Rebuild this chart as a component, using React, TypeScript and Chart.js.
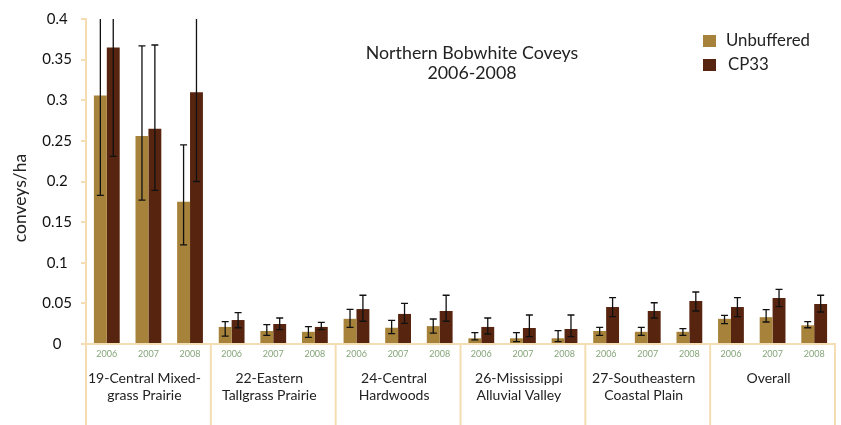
import React, { useEffect, useRef } from "react";
import { Chart, registerables } from "chart.js";

Chart.register(...registerables);

const years = ["2006", "2007", "2008"];
const regions: string[][] = [
  ["19-Central Mixed-", "grass Prairie"],
  ["22-Eastern", "Tallgrass Prairie"],
  ["24-Central", "Hardwoods"],
  ["26-Mississippi", "Alluvial Valley"],
  ["27-Southeastern", "Coastal Plain"],
  ["Overall"],
];
const categories: string[] = regions.flatMap(() => years);

const unbuffered = [0.306, 0.256, 0.175, 0.021, 0.016, 0.015, 0.031, 0.02, 0.022, 0.007, 0.007, 0.007, 0.016, 0.015, 0.015, 0.031, 0.033, 0.023];
const unbufferedLow = [0.183, 0.177, 0.122, 0.0098, 0.0107, 0.0082, 0.0205, 0.0127, 0.0135, 0.005, 0.003, 0.003, 0.0107, 0.0107, 0.0107, 0.025, 0.0271, 0.02];
const unbufferedHigh = [0.43, 0.367, 0.245, 0.0275, 0.0238, 0.0213, 0.0427, 0.029, 0.0308, 0.0139, 0.0139, 0.0164, 0.0205, 0.0205, 0.0189, 0.0353, 0.0422, 0.0275];
const cp33 = [0.365, 0.265, 0.31, 0.0295, 0.0246, 0.021, 0.043, 0.037, 0.0406, 0.021, 0.0197, 0.0185, 0.0455, 0.0406, 0.0529, 0.0455, 0.0566, 0.0492];
const cp33Low = [0.231, 0.189, 0.2, 0.02, 0.0176, 0.0176, 0.028, 0.0255, 0.028, 0.0123, 0.009, 0.009, 0.0336, 0.032, 0.0406, 0.0336, 0.046, 0.0394];
const cp33High = [0.5, 0.368, 0.42, 0.0385, 0.032, 0.0267, 0.06, 0.05, 0.06, 0.032, 0.0357, 0.0357, 0.057, 0.0508, 0.064, 0.057, 0.0673, 0.06];

const titleLines = ["Northern Bobwhite Coveys", "2006-2008"];
const yTitle = "conveys/ha";

const COL_UNBUF = "#a7823a";
const COL_CP33 = "#57240f";
const TAN = "#f4ddb2";
const FONT = "Lato, 'Open Sans', sans-serif";

export default function App() {
  const ref = useRef<HTMLCanvasElement>(null);

  useEffect(() => {
    document.body.style.margin = "0";
    const canvas = ref.current;
    if (!canvas) return;
    const lows = [unbufferedLow, cp33Low];
    const highs = [unbufferedHigh, cp33High];

    const customPlugin = {
      id: "custom",
      afterDatasetsDraw(chart: any) {
        const ctx = chart.ctx;
        const y = chart.scales.y;
        const area = chart.chartArea;
        ctx.save();
        ctx.beginPath();
        ctx.rect(area.left, area.top, area.right - area.left, area.bottom - area.top);
        ctx.clip();
        ctx.strokeStyle = "#111";
        ctx.lineWidth = 1.3;
        chart.data.datasets.forEach((_ds: any, di: number) => {
          const meta = chart.getDatasetMeta(di);
          meta.data.forEach((bar: any, i: number) => {
            const yt = y.getPixelForValue(highs[di][i]);
            const yb = y.getPixelForValue(lows[di][i]);
            const x = bar.x;
            ctx.beginPath();
            ctx.moveTo(x, yt);
            ctx.lineTo(x, yb);
            ctx.moveTo(x - 3.5, yt);
            ctx.lineTo(x + 3.5, yt);
            ctx.moveTo(x - 3.5, yb);
            ctx.lineTo(x + 3.5, yb);
            ctx.stroke();
          });
        });
        ctx.restore();
      },
      afterDraw(chart: any) {
        const ctx = chart.ctx;
        const x = chart.scales.x;
        const area = chart.chartArea;
        const h = chart.height;
        ctx.save();
        ctx.strokeStyle = TAN;
        ctx.lineWidth = 2;
        const n = categories.length;
        for (let g = 0; g <= regions.length; g++) {
          let px: number;
          const idx = g * 3;
          if (idx === 0) px = area.left;
          else if (idx >= n) px = area.right;
          else px = (x.getPixelForValue(idx - 1) + x.getPixelForValue(idx)) / 2;
          ctx.beginPath();
          ctx.moveTo(px, area.bottom);
          ctx.lineTo(px, h);
          ctx.stroke();
        }
        ctx.fillStyle = "#222";
        ctx.font = `14px ${FONT}`;
        ctx.textAlign = "center";
        ctx.textBaseline = "middle";
        regions.forEach((lines, g) => {
          const cx = x.getPixelForValue(g * 3 + 1) - 4;
          lines.forEach((l, li) => {
            ctx.fillText(l, cx, 378 + li * 17);
          });
        });
        ctx.fillStyle = "#222";
        ctx.font = `17.8px ${FONT}`;
        titleLines.forEach((t, i) => ctx.fillText(t, 472, 53 + i * 20));
        ctx.save();
        ctx.translate(20, 198);
        ctx.rotate(-Math.PI / 2);
        ctx.font = `17.5px ${FONT}`;
        ctx.fillText(yTitle, 0, 0);
        ctx.restore();
        ctx.textAlign = "left";
        ctx.font = `16.8px ${FONT}`;
        chart.data.datasets.forEach((ds: any, i: number) => {
          const yy = 41 + i * 24;
          ctx.fillStyle = ds.backgroundColor;
          ctx.fillRect(703, yy - 6, 13, 12);
          ctx.fillStyle = "#222";
          ctx.fillText(ds.label, i === 0 ? 726 : 728, yy);
        });
        ctx.restore();
      },
    };

    const chart = new Chart(canvas, {
      type: "bar",
      data: {
        labels: categories,
        datasets: [
          { label: "Unbuffered", data: unbuffered, backgroundColor: COL_UNBUF, categoryPercentage: 0.62, barPercentage: 1.0 },
          { label: "CP33", data: cp33, backgroundColor: COL_CP33, categoryPercentage: 0.62, barPercentage: 1.0 },
        ],
      },
      options: {
        responsive: false,
        animation: false,
        layout: { padding: { top: 19, right: 6, left: 0, bottom: 0 } },
        plugins: { legend: { display: false }, tooltip: { enabled: false }, title: { display: false } },
        scales: {
          x: {
            grid: { display: false, drawTicks: false },
            border: { display: true, color: TAN, width: 2 },
            ticks: { color: "#86a57a", font: { size: 9, family: FONT }, padding: 5, maxRotation: 0, autoSkip: false },
            afterFit: (s: any) => { s.height = 81; },
          },
          y: {
            min: 0,
            max: 0.4,
            ticks: {
              stepSize: 0.05,
              color: "#111",
              font: { size: 15, family: FONT },
              padding: 9,
              crossAlign: "center",
              callback: (v: any) => String(Math.round(Number(v) * 100) / 100),
            },
            grid: { display: true, drawOnChartArea: false, drawTicks: true, tickLength: 5, color: TAN, lineWidth: 2 },
            border: { display: true, color: TAN, width: 2 },
            afterFit: (s: any) => { s.width = 86; },
          },
        },
      },
      plugins: [customPlugin],
    });
    return () => chart.destroy();
  }, []);

  return <canvas ref={ref} width={841} height={425} style={{ display: "block" }} />;
}
